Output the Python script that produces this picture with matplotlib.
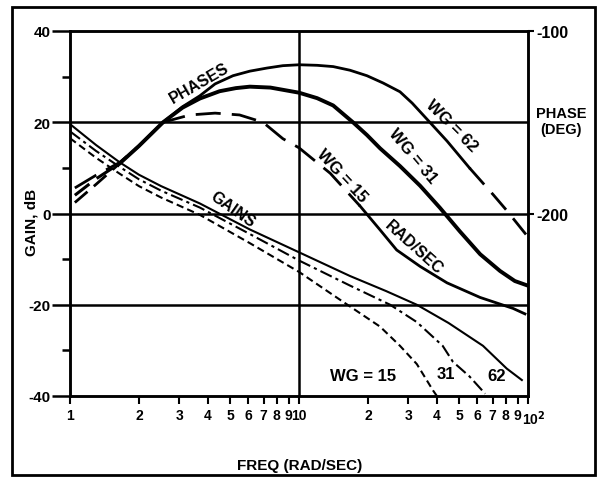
"""
Bode plot: gain and phase for WG = 15, 31, 62 rad/sec.
"""

import matplotlib
matplotlib.use('Agg')
import matplotlib.pyplot as plt
import matplotlib.transforms as mtransforms
from matplotlib.patches import Rectangle
from matplotlib.ticker import FixedLocator, NullLocator


# ---- data ----

# gains (dB)
gain_freq_62 = [1.0, 1.3, 1.65, 2.0, 2.5, 3.69, 6.1, 10, 16.7, 24, 32.7, 45, 63.6, 80.8, 94]
gain_db_62   = [19.6, 15.0, 11.2, 8.5, 6.0, 2.2, -3.5, -8.5, -13.7, -17.0, -20.0, -24.0, -29.0, -34.0, -36.5]

gain_freq_31 = [1.0, 1.3, 1.65, 2.0, 2.5, 3.69, 6.1, 10, 16.7, 25, 32.7, 42.4, 47, 55.5, 65]
gain_db_31   = [18.0, 13.7, 10.2, 7.5, 5.0, 1.3, -4.5, -10.3, -15.8, -20.0, -23.8, -29.0, -32.5, -35.7, -39.5]

gain_freq_15 = [1.0, 1.3, 1.65, 2.0, 2.5, 3.69, 6.1, 10, 15.1, 22.6, 27.6, 32.7, 38.5, 40]
gain_db_15   = [16.5, 12.2, 8.7, 6.0, 3.5, -0.3, -6.5, -12.8, -18.9, -24.8, -29.0, -33.0, -38.8, -40.0]

# phases (deg)
phase_freq_62 = [1.05, 1.3, 1.65, 2.0, 2.55, 3.1, 3.69, 4.3, 5.15, 6.1, 7.25, 8.5, 10, 12,
                 14.1, 16.7, 19.8, 23.3, 27.6, 31.2, 36.2, 44.3, 55.5, 70.6, 80.8, 98]
phase_deg_62  = [-194, -184, -172.5, -163, -150, -141.5, -135.5, -129, -124.5, -122, -120.3, -119,
                 -118.5, -118.8, -119.5, -121.5, -124.5, -128.5, -133.3, -139.5, -148.3, -160.3,
                 -175, -189.8, -198.4, -211.5]

phase_freq_31 = [1.05, 1.3, 1.65, 2.0, 2.55, 3.1, 3.69, 4.5, 5.3, 6.1, 7.5, 10, 12, 14.1, 17.2,
                 19.8, 22.6, 27.6, 33.8, 41.2, 50.4, 61.8, 75.5, 87.6, 98.7]
phase_deg_31  = [-190, -181, -172.5, -163, -150, -142, -137, -133, -131.3, -130.5, -131, -133.8,
                 -136.8, -140.8, -150, -157, -164.3, -174, -184.8, -196.8, -209.8, -222.3,
                 -231.5, -237, -239.3]

phase_freq_15 = [1.05, 1.3, 1.65, 2.0, 2.55, 3.34, 4.3, 5.5, 6.96, 8.5, 10, 13.7, 18.5, 22.6,
                 26.7, 33.8, 44.3, 61.8, 86, 97]
phase_deg_15  = [-186, -179, -172, -163, -150, -146, -145, -146, -150, -159, -164, -178, -196,
                 -209, -220, -229, -238, -246, -252, -255]

x_ticks  = [1, 2, 3, 4, 5, 6, 7, 8, 9, 10, 20, 30, 40, 50, 60, 70, 80, 90, 100]
x_labels = ['1', '2', '3', '4', '5', '6', '7', '8', '9', '10',
            '2', '3', '4', '5', '6', '7', '8', '9', '10$^2$']


def _piece(freq, vals, lo, hi):
    """Points of a curve with lo <= f <= hi."""
    pts = [(f, v) for f, v in zip(freq, vals) if lo <= f <= hi]
    return [p[0] for p in pts], [p[1] for p in pts]


def main():
    plt.rcParams['font.family'] = 'Liberation Sans'
    plt.rcParams['font.weight'] = 'bold'

    fig = plt.figure(figsize=(6.03, 4.81), dpi=100)
    ax = fig.add_axes([70 / 603, 84 / 481, 458 / 603, 365 / 481])

    # outer frame
    fig.patches.append(Rectangle((12 / 603, 5 / 481), 583 / 603, 468 / 481,
                                 transform=fig.transFigure, fill=False,
                                 edgecolor='black', linewidth=2))

    # ---- gains ----
    ax.plot(gain_freq_62, gain_db_62, color='black', linewidth=1.5)
    ax.plot(gain_freq_31, gain_db_31, color='black', linewidth=1.5,
            dashes=(6, 2, 1.5, 2))
    ax.plot(gain_freq_15, gain_db_15, color='black', linewidth=1.5,
            dashes=(3.5, 2))

    ax.set_xscale('log')
    ax.set_xlim(1, 100)
    ax.set_ylim(-40, 40)

    for y in (20, 0, -20):
        ax.axhline(y, color='black', linewidth=1.8)
    ax.axvline(10, color='black', linewidth=1.8)

    for s in ax.spines.values():
        s.set_linewidth(1.8)

    ax.yaxis.set_major_locator(FixedLocator([-40, -20, 0, 20, 40]))
    ax.yaxis.set_minor_locator(FixedLocator([-30, -10, 10, 30]))
    ax.set_yticklabels(['-40', '-20', '0', '20', '40'], fontsize=11)
    ax.tick_params(axis='y', which='major', length=13, width=1.8, pad=1)
    ax.tick_params(axis='y', which='minor', length=6, width=1.8)

    ax.xaxis.set_major_locator(FixedLocator(x_ticks))
    ax.xaxis.set_minor_locator(NullLocator())
    ax.set_xticklabels(x_labels, fontsize=10)
    ax.tick_params(axis='x', length=6, width=1.5, pad=3)
    last = ax.get_xticklabels()[-1]
    last.set_horizontalalignment('left')
    last.set_transform(last.get_transform() +
                       mtransforms.ScaledTranslation(-6 / 100, 0, fig.dpi_scale_trans))

    # ---- phases on the right axis ----
    ax2 = ax.twinx()
    ax2.set_ylim(-300, -100)
    ax2.set_yticks([-100, -200])
    ax2.set_yticklabels(['-100', '-200'], fontsize=11.5)
    ax2.tick_params(axis='y', length=4, width=1.5, pad=2)
    for s in ax2.spines.values():
        s.set_linewidth(1.8)

    # WG = 62: dashed start, solid body, dashed tail
    f, v = _piece(phase_freq_62, phase_deg_62, 0, 1.65)
    ax2.plot(f, v, color='black', linewidth=2, dashes=(6, 3))
    f, v = _piece(phase_freq_62, phase_deg_62, 1.65, 55.5)
    ax2.plot(f, v, color='black', linewidth=2)
    f, v = _piece(phase_freq_62, phase_deg_62, 55.5, 200)
    ax2.plot(f, v, color='black', linewidth=2, dashes=(8, 4))

    # WG = 31: dashed start, heavy solid after
    f, v = _piece(phase_freq_31, phase_deg_31, 0, 1.65)
    ax2.plot(f, v, color='black', linewidth=2.2, dashes=(6, 3))
    f, v = _piece(phase_freq_31, phase_deg_31, 1.65, 200)
    ax2.plot(f, v, color='black', linewidth=2.8)

    # WG = 15: long dashes, solid past 18 rad/sec
    f, v = _piece(phase_freq_15, phase_deg_15, 0, 18.5)
    ax2.plot(f, v, color='black', linewidth=2, dashes=(9, 4))
    f, v = _piece(phase_freq_15, phase_deg_15, 18.5, 200)
    ax2.plot(f, v, color='black', linewidth=2)

    # ---- annotations (figure pixel positions) ----
    def note(x, y, s, rot=0, size=11):
        fig.text(x / 603, 1 - y / 481, s, rotation=rot, fontsize=size,
                 ha='center', va='center', fontweight='bold',
                 rotation_mode='anchor')

    note(199, 84, 'PHASES', rot=30, size=11.5)
    note(233, 210, 'GAINS', rot=-35, size=11.5)
    note(452, 126, 'WG = 62', rot=-45, size=12)
    note(413, 156, 'WG = 31', rot=-50, size=12)
    note(342, 176, 'WG = 15', rot=-47, size=12)
    note(414, 248, 'RAD/SEC', rot=-42, size=11.5)
    note(363, 377, 'WG = 15', size=12)
    note(446, 375, '31', size=12)
    note(497, 377, '62', size=12)
    note(561, 122, 'PHASE\n(DEG)', size=10.5)
    note(32, 222, 'GAIN, dB', rot=90, size=11)
    note(300, 466, 'FREQ (RAD/SEC)', size=11)

    fig.savefig('out.png', dpi=100)
    plt.close(fig)


if __name__ == '__main__':
    main()
